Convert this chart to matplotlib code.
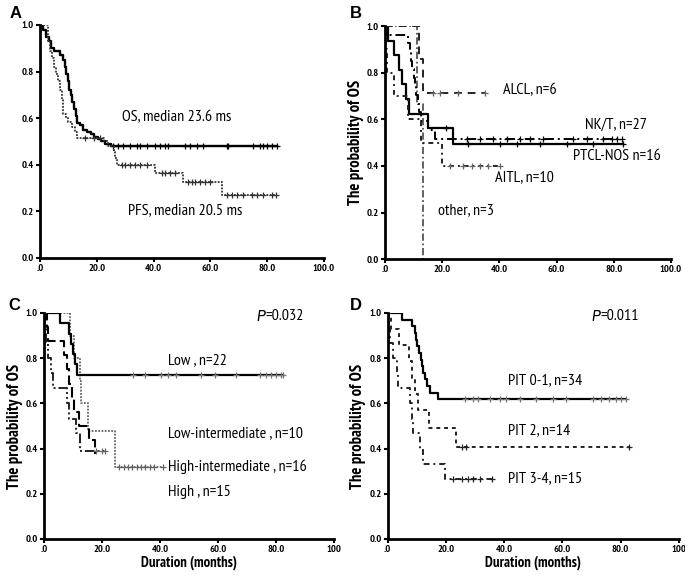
import numpy as np
import matplotlib
matplotlib.use("Agg")
import matplotlib.pyplot as plt
from matplotlib import font_manager

# ---------------- data ----------------
# Panel A
os_t = [1, 2, 3, 4, 5, 7, 8, 8.8, 9.3, 9.8, 10.3, 10.8, 11.3, 12, 12.6, 13.2, 14, 15, 16.5, 18, 19, 20.5, 21.5, 23, 25]
os_s = [0.98, 0.95, 0.93, 0.90, 0.89, 0.87, 0.85, 0.82, 0.79, 0.76, 0.72, 0.70, 0.67, 0.64, 0.61, 0.58, 0.57, 0.55, 0.54, 0.53, 0.52, 0.51, 0.50, 0.49, 0.48]
os_c = [25.8, 27.6, 29.3, 31.7, 34, 35.2, 37.6, 40.5, 42.3, 44, 45.2, 51, 52.8, 55.2, 57.5, 65.7, 66.3, 75.1, 77.5, 78.6, 79.8, 81.6, 83.3]

pfs_t = [2.8, 3.5, 4.2, 4.8, 5.5, 6.2, 7.0, 7.6, 8.2, 9.0, 10.0, 11.2, 12.4, 13.2, 22.4, 24.0, 25.9, 26.5, 27.0, 40.5, 50.5, 64.0]
pfs_s = [0.93, 0.89, 0.86, 0.82, 0.79, 0.76, 0.72, 0.68, 0.62, 0.60, 0.585, 0.56, 0.54, 0.515, 0.50, 0.48, 0.455, 0.43, 0.40, 0.365, 0.325, 0.27]
pfs_c = [16, 19, 21, 28.8, 29.9, 31.7, 33.5, 35.2, 37.6, 42.8, 44, 45.8, 47.5, 52.2, 53.4, 54.6, 56.3, 58.1, 59.9,
         65.7, 67.5, 69.3, 71.6, 74.5, 76.3, 78.6, 81.6, 83.0]

# Panel B
ptcl_t = [1.0, 3.3, 4.8, 6.0, 7.2, 8.3, 15.2, 23.8]
ptcl_s = [0.9375, 0.875, 0.8125, 0.75, 0.6875, 0.625, 0.5625, 0.492]
ptcl_c = [21.5, 29.1, 40.2, 46.1, 54.2, 63.5, 72.8, 83.3]

nkt_t = [0.8, 8.0, 8.6, 9.1, 9.6, 10.1, 10.6, 11.0, 11.5, 12.0, 12.5, 15.0, 17.5]
nkt_s = [0.963, 0.926, 0.889, 0.852, 0.815, 0.778, 0.741, 0.704, 0.667, 0.63, 0.593, 0.556, 0.516]
nkt_c = [28.6, 33.2, 37.9, 42.6, 47.2, 50.7, 55.3, 65.8, 70.5, 76.3, 79.3, 81.0, 82.8]

alcl_t = [11.8, 13.3]
alcl_s = [0.857, 0.714]
alcl_c = [16.9, 19.2, 25.6, 35.0]

aitl_t = [0.3, 0.6, 3.0, 8.0, 12.5, 19.8]
aitl_s = [0.9, 0.8, 0.7, 0.6, 0.5, 0.4]
aitl_c = [22.7, 27.3, 30.3, 33.2, 36.0, 40.2]

other_t = [11.1, 13.3]
other_s = [0.667, 0.0]
other_c = []

# Panel C
low_t = [5.4, 8.6, 9.4, 10.0, 10.6, 11.4]
low_s = [0.955, 0.909, 0.864, 0.818, 0.773, 0.727]
low_c = [30.7, 34.7, 40.5, 42.8, 45.6, 54.3, 58.9, 66.3, 74.4, 76.7, 78.4, 80.1, 81.8, 82.5]

lint_t = [8.9, 10.2, 12.3, 12.9, 15.2, 24.4]
lint_s = [0.9, 0.8, 0.7, 0.6, 0.48, 0.32]
lint_c = [26, 27.5, 29, 30.5, 32, 33.5, 35, 36.5, 38, 41]

hint_t = [1.0, 1.5, 7.0, 7.8, 8.5, 9.5, 10.5, 12.0, 15.5, 17.5]
hint_s = [0.9375, 0.875, 0.8125, 0.75, 0.6875, 0.625, 0.5625, 0.5, 0.4375, 0.375]
hint_c = [83.0]

high_t = [0.3, 0.8, 1.5, 2.3, 3.2, 8.0, 8.8, 11.0, 12.5]
high_s = [0.933, 0.867, 0.8, 0.733, 0.667, 0.6, 0.533, 0.467, 0.39]
high_c = [18.0, 20.0, 21.0]

# Panel D
pit01_t = [4.8, 8.2, 9.4, 9.7, 10.2, 10.9, 11.3, 11.7, 12.2, 12.8, 13.4, 14.7, 17.4]
pit01_s = [0.971, 0.941, 0.912, 0.882, 0.853, 0.824, 0.794, 0.765, 0.735, 0.706, 0.676, 0.647, 0.618]
pit01_c = [26.5, 29.4, 31.1, 35.1, 38.5, 40.8, 45.4, 51.1, 56.8, 61.4, 70.5, 73.4, 76.2, 78.5, 80.2, 82.0]

pit2_t = [1.0, 3.9, 7.2, 8.5, 9.5, 10.5, 14.2, 23.5]
pit2_s = [0.929, 0.857, 0.786, 0.714, 0.643, 0.571, 0.49, 0.408]
pit2_c = [25.5, 27.0, 83.0]

pit34_t = [0.3, 0.8, 1.8, 3.1, 3.7, 7.7, 8.2, 8.7, 11.1, 12.2, 19.7]
pit34_s = [0.933, 0.867, 0.8, 0.733, 0.667, 0.6, 0.533, 0.467, 0.4, 0.333, 0.267]
pit34_c = [22.5, 25.4, 27.7, 29.4, 31.7, 35.7]

x_ticks = [0, 20, 40, 60, 80, 100]
x_labels_ab = [".0", "20.0", "40.0", "60.0", "80.0", "100.0"]
x_labels_cd = [".0", "20.0", "40.0", "60.0", "80.0", "100"]
y_ticks = [0.0, 0.2, 0.4, 0.6, 0.8, 1.0]
y_labels = ["0.0", "0.2", "0.4", "0.6", "0.8", "1.0"]

# ---------------- fonts ----------------
fl = font_manager.fontManager.ttflist
names = {f.name for f in fl}
narrow = "Liberation Sans"
for cand in ["Arial Narrow", "Liberation Sans Narrow", "PT Sans Narrow", "Roboto Condensed",
             "Archivo Narrow", "Open Sans Condensed"]:
    if cand in names:
        narrow = cand
        break
italic_fam = "Liberation Sans"
for cand in ["Arial Narrow", "Liberation Sans Narrow", "Archivo Narrow", "Roboto Condensed", "Liberation Sans"]:
    if any(f.name == cand and f.style == 'italic' for f in fl):
        italic_fam = cand
        break
FAM = [narrow, 'DejaVu Sans']
plt.rcParams['font.family'] = FAM

fig = plt.figure(figsize=(6.85, 5.81), dpi=100)
axA = fig.add_axes([0.0584, 0.556, 0.4146, 0.401])
axB = fig.add_axes([0.562, 0.554, 0.4175, 0.401])
axC = fig.add_axes([0.0642, 0.0723, 0.4234, 0.389])
axD = fig.add_axes([0.566, 0.0723, 0.4248, 0.389])

FS = 11.5
YL = 12
XL = 10.5


def km(ax, t, s, c, color='black', lw=1.5, dashes=None, mcolor=None):
    t = np.asarray(t, float)
    s = np.asarray(s, float)
    end = max([t[-1]] + list(c))
    xs = np.concatenate([[0.0], t, [end]])
    ys = np.concatenate([[1.0], s, [s[-1]]])
    line, = ax.step(xs, ys, where='post', color=color, lw=lw)
    if dashes is not None:
        line.set_dashes(dashes)
    if len(c):
        c = np.asarray(c, float)
        idx = np.searchsorted(t, c, side='right')
        allv = np.concatenate([[1.0], s])
        ax.plot(c, allv[idx], '+', color=mcolor or color, ms=4.5, mew=0.9, ls='none')


def style(ax, xlabels):
    ax.set_xlim(0, 100)
    ax.set_ylim(0, 1.0)
    for sp in ['top', 'right']:
        ax.spines[sp].set_visible(False)
    for sp in ['left', 'bottom']:
        ax.spines[sp].set_linewidth(2.0)
    ax.set_xticks(x_ticks)
    ax.set_xticklabels(xlabels)
    ax.set_yticks(y_ticks)
    ax.set_yticklabels(y_labels)
    ax.tick_params(direction='out', length=3, width=1.5, labelsize=7.5, pad=1.5)
    for lab in ax.get_xticklabels() + ax.get_yticklabels():
        lab.set_fontweight('bold')


def pval(ax, x, y, val):
    t1 = ax.text(x, y, "P", fontsize=FS, style='italic', va='center', ha='left',
                 family=[italic_fam, 'DejaVu Sans'])
    ax.annotate(val, xy=(1, 0.5), xycoords=t1, fontsize=FS, va='center', ha='left')


# Panel A
km(axA, os_t, os_s, os_c, lw=1.7)
km(axA, pfs_t, pfs_s, pfs_c, color='#333333', lw=1.3, dashes=(1, 0.8))
style(axA, x_labels_ab)
axA.text(28.9, 0.605, "OS, median 23.6 ms", fontsize=FS, va='center', ha='left')
axA.text(31.0, 0.203, "PFS, median 20.5 ms", fontsize=FS, va='center', ha='left')

# Panel B
km(axB, other_t, other_s, other_c, color='#555555', lw=1.3, dashes=(4, 1.5, 1, 1.5))
km(axB, ptcl_t, ptcl_s, ptcl_c, lw=1.6)
km(axB, nkt_t, nkt_s, nkt_c, lw=1.4, dashes=(5, 2, 1, 2))
km(axB, alcl_t, alcl_s, alcl_c, color='#222222', lw=1.4, dashes=(4, 3), mcolor='#666666')
km(axB, aitl_t, aitl_s, aitl_c, color='#222222', lw=1.4, dashes=(2.5, 2, 1, 2), mcolor='#666666')
style(axB, x_labels_ab)
axB.set_ylabel("The probability of OS", fontsize=YL, fontweight='bold', labelpad=2)
axB.text(41.3, 0.725, "ALCL, n=6", fontsize=FS, va='center')
axB.text(69.9, 0.575, "NK/T, n=27", fontsize=FS, va='center')
axB.text(65.8, 0.442, "PTCL-NOS n=16", fontsize=FS, va='center')
axB.text(38.5, 0.353, "AITL, n=10", fontsize=FS, va='center')
axB.text(18.6, 0.21, "other, n=3", fontsize=FS, va='center')

# Panel C
km(axC, lint_t, lint_s, lint_c, color='#666666', lw=1.3, dashes=(1, 0.8))
km(axC, low_t, low_s, low_c, lw=1.6, mcolor='#777777')
km(axC, hint_t, hint_s, [], lw=1.5, dashes=(5, 2))
km(axC, high_t, high_s, high_c, color='#222222', lw=1.4, dashes=(5, 1.5, 1, 1.5, 1, 1.5), mcolor='#666666')
style(axC, x_labels_cd)
axC.set_ylabel("The probability of OS", fontsize=YL, fontweight='bold', labelpad=2)
axC.set_xlabel("Duration (months)", fontsize=XL, fontweight='bold', labelpad=1)
pval(axC, 73.3, 0.985, "=0.032")
axC.text(42.9, 0.792, "Low , n=22", fontsize=FS, va='center')
axC.text(42.9, 0.468, "Low-intermediate , n=10", fontsize=FS, va='center')
axC.text(42.9, 0.32, "High-intermediate , n=16", fontsize=FS, va='center')
axC.text(42.9, 0.209, "High , n=15", fontsize=FS, va='center')

# Panel D
km(axD, pit01_t, pit01_s, pit01_c, lw=1.6, mcolor='#777777')
km(axD, pit2_t, pit2_s, pit2_c, color='#222222', lw=1.4, dashes=(2, 2))
km(axD, pit34_t, pit34_s, pit34_c, color='#222222', lw=1.4, dashes=(3, 2, 1, 2))
style(axD, x_labels_cd)
axD.set_ylabel("The probability of OS", fontsize=YL, fontweight='bold', labelpad=2)
axD.set_xlabel("Duration (months)", fontsize=XL, fontweight='bold', labelpad=1)
pval(axD, 70.0, 0.985, "=0.011")
axD.text(41.3, 0.704, "PIT 0-1, n=34", fontsize=FS, va='center')
axD.text(41.3, 0.482, "PIT 2, n=14", fontsize=FS, va='center')
axD.text(41.3, 0.268, "PIT 3-4, n=15", fontsize=FS, va='center')

# Panel letters
for lbl, x, y in [("A", 10, 13), ("B", 350, 13), ("C", 8, 305), ("D", 350, 305)]:
    fig.text(x / 685, 1 - y / 581, lbl, fontsize=12, fontweight='bold', va='center', ha='left',
             family=['Liberation Sans', 'DejaVu Sans'])

fig.savefig("out.png", dpi=100)
